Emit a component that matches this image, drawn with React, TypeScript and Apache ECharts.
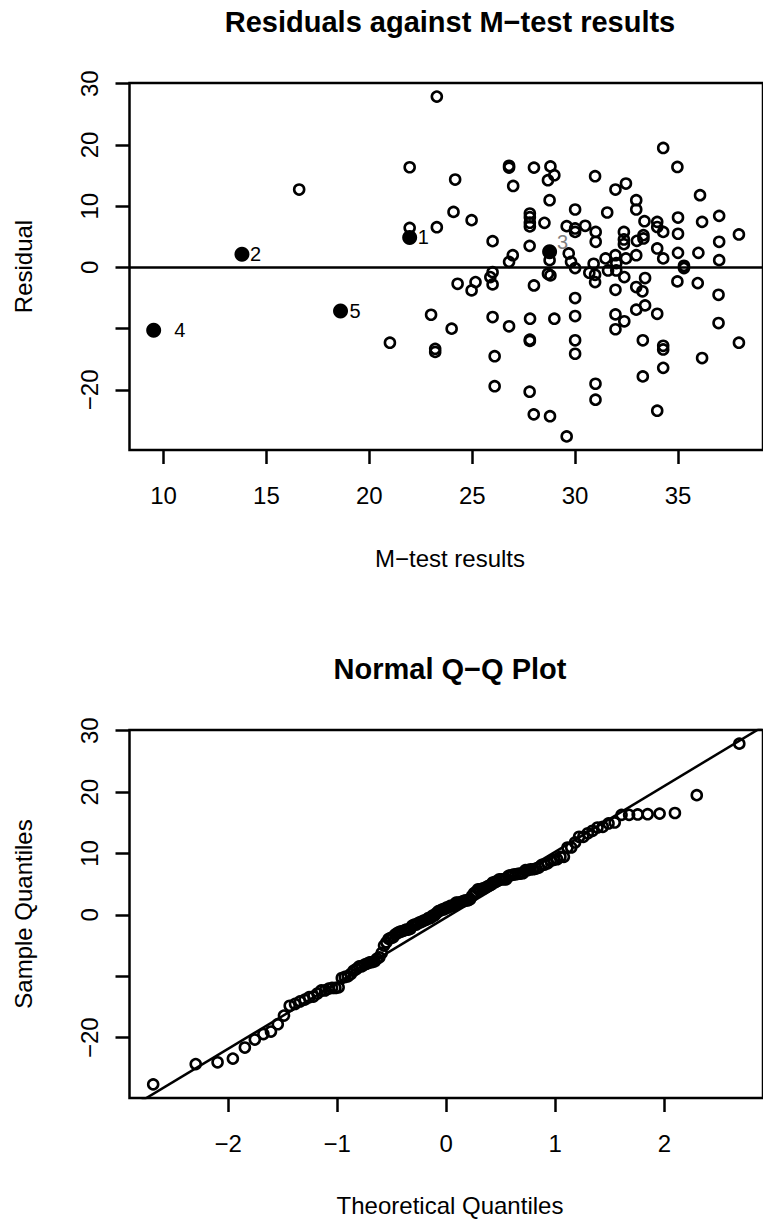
import React, { useEffect, useRef } from "react";
import * as echarts from "echarts";

// ---------- data ----------
// open circles: M-test result (x) and residual (y)
const mTest = [
  23.28, 21.96, 16.59, 21.96, 23.28,
  23.0, 21.0, 23.2, 23.2,
  34.28, 34.97, 24.17, 26.79, 26.79, 28.0, 28.8, 28.99, 28.68, 26.99,
  30.97, 32.47, 31.96, 36.07, 28.76, 32.97, 32.97, 30.0, 24.09, 24.97,
  31.56, 27.8, 27.8, 27.8, 27.8, 28.51, 29.59, 30.0, 30.0, 30.49,
  31.0, 31.0, 33.37, 33.99, 33.99, 34.28, 35.0, 35.0, 36.17, 37.0,
  37.0, 37.96, 32.37, 32.37, 32.37, 33.0, 33.32, 33.32, 25.99, 27.79,
  28.76, 29.69, 29.8, 26.97, 26.79, 31.48, 31.96, 32.47, 32.97, 33.99,
  34.28, 35.0, 35.99, 37.0, 35.29, 30.9, 32.0,
  25.99, 25.88, 25.16, 24.97, 25.99, 24.29, 28.0, 28.68, 28.8, 30.0,
  30.69, 30.97, 30.97, 31.6, 32.0, 32.39, 31.96, 32.97, 33.27, 33.4,
  35.29, 34.97, 35.96, 36.97, 30.0, 33.4, 32.97, 33.99, 36.97, 25.99,
  27.81, 28.99, 30.0, 31.96, 32.39, 31.96, 26.79, 24.0, 27.8, 27.8,
  30.0, 30.0, 33.29, 34.28, 34.28, 37.96, 26.09, 36.17, 34.28, 33.29,
  26.09, 30.99, 27.79, 30.99, 27.99, 28.78, 33.99, 29.59,
];
const residual = [
  27.9, 16.36, 12.72, 6.46, 6.57,
  -7.73, -12.3, -13.3, -13.8,
  19.51, 16.41, 14.35, 16.6, 16.3, 16.3, 16.5, 15.06, 14.24, 13.3,
  14.9, 13.7, 12.72, 11.8, 10.98, 10.98, 9.46, 9.46, 9.07, 7.72,
  8.97, 8.8, 8.2, 7.3, 6.7, 7.28, 6.74, 6.36, 5.8, 6.8,
  5.8, 4.18, 7.55, 7.44, 6.6, 5.8, 8.15, 5.5, 7.44, 8.42,
  4.18, 5.38, 5.8, 4.57, 3.8, 4.34, 5.27, 4.73, 4.29, 3.52,
  1.19, 2.28, 0.91, 2.0, 0.91, 1.47, 2.0, 1.47, 2.0, 3.1,
  1.47, 2.38, 2.38, 1.19, 0.26, 0.6, 0.7,
  -0.77, -1.58, -2.4, -3.75, -2.77, -2.67, -2.94, -1.04, -1.3, -0.11,
  -0.87, -1.2, -2.4, -0.5, -0.5, -1.58, -3.65, -3.2, -3.9, -1.74,
  -0.11, -2.28, -2.56, -4.47, -5.0, -6.2, -6.9, -7.57, -9.09, -8.1,
  -8.38, -8.38, -7.94, -7.67, -8.8, -10.1, -9.62, -10.0, -11.8, -12.0,
  -11.9, -14.1, -11.9, -12.8, -13.4, -12.3, -14.5, -14.8, -16.4, -17.8,
  -19.4, -19.0, -20.3, -21.6, -24.0, -24.3, -23.4, -27.6,
];
// highlighted (filled) observations
const flaggedMTest = [21.96, 13.81, 28.76, 9.52, 18.6];
const flaggedResidual = [4.89, 2.17, 2.55, -10.28, -7.13];
const flaggedId = ["1", "2", "3", "4", "5"];

// axes
const xTicksTop = [10, 15, 20, 25, 30, 35];
const yTicks = [-20, -10, 0, 10, 20, 30];
const yTickLabels = [-20, 0, 10, 20, 30];
const xTicksQQ = [-2, -1, 0, 1, 2];
const qqLineIntercept = -0.4;
const qqLineSlope = 10.7;

// ---------- styles ----------
const FONT = "'Liberation Sans', Arial, Helvetica, sans-serif";
const LW = 2.5;
const labelGap = [0.5, 0.5, 0, 13, 1.5];
const labelDy = [0, 0, -10, 0, 0];
const labelColor = ["#000", "#000", "#808080", "#000", "#000"];

// inverse standard normal CDF (Acklam)
function qnorm(p: number): number {
  const a = [-3.969683028665376e1, 2.209460984245205e2, -2.759285104469687e2, 1.38357751867269e2, -3.066479806614716e1, 2.506628277459239];
  const b = [-5.447609879822406e1, 1.615858368580409e2, -1.556989798598866e2, 6.680131188771972e1, -1.328068155288572e1];
  const c = [-7.784894002430293e-3, -3.223964580411365e-1, -2.400758277161838, -2.549732539343734, 4.374664141464968, 2.938163982698783];
  const d = [7.784695709041462e-3, 3.224671290700398e-1, 2.445134137142996, 3.754408661907416];
  const pl = 0.02425;
  if (p < pl) {
    const q = Math.sqrt(-2 * Math.log(p));
    return (((((c[0] * q + c[1]) * q + c[2]) * q + c[3]) * q + c[4]) * q + c[5]) / ((((d[0] * q + d[1]) * q + d[2]) * q + d[3]) * q + 1);
  }
  if (p <= 1 - pl) {
    const q = p - 0.5;
    const r = q * q;
    return ((((((a[0] * r + a[1]) * r + a[2]) * r + a[3]) * r + a[4]) * r + a[5]) * q) / (((((b[0] * r + b[1]) * r + b[2]) * r + b[3]) * r + b[4]) * r + 1);
  }
  const q = Math.sqrt(-2 * Math.log(1 - p));
  return -(((((c[0] * q + c[1]) * q + c[2]) * q + c[3]) * q + c[4]) * q + c[5]) / ((((d[0] * q + d[1]) * q + d[2]) * q + d[3]) * q + 1);
}

const fmtMinus = (v: number) => (v < 0 ? "\u2212" + Math.abs(v) : String(v));

export default function App() {
  const ref = useRef<HTMLDivElement>(null);
  useEffect(() => {
    if (!ref.current) return;
    const chart = echarts.init(ref.current, undefined, { renderer: "svg" });

    const openPts = mTest.map((x, i) => [x, residual[i]]);
    const flaggedPts = flaggedMTest.map((x, i) => ({
      value: [x, flaggedResidual[i]],
      label: {
        show: true,
        formatter: flaggedId[i],
        position: "right",
        distance: labelGap[i],
        offset: [0, labelDy[i]],
        color: labelColor[i],
        fontSize: 20,
        fontFamily: FONT,
      },
    }));

    const allRes = residual.concat(flaggedResidual).slice().sort((a, b) => a - b);
    const n = allRes.length;
    const qqPts = allRes.map((y, i) => [qnorm((i + 1 - 0.5) / n), y]);

    const yMin = -29.82;
    const yMax = 30.12;

    const tick = { show: true, inside: false, length: 14, lineStyle: { color: "#000", width: LW } };
    const lab = { color: "#000", fontSize: 24, fontFamily: FONT };
    const noLine = { show: false, onZero: false };

    const textEl = (text: string, x: number, y: number, size: number, bold = false, rot = 0) => ({
      type: "text",
      x,
      y,
      rotation: rot,
      silent: true,
      style: {
        text,
        x: 0,
        y: 0,
        fill: "#000",
        font: `${bold ? "bold " : ""}${size}px ${FONT}`,
        textAlign: "center",
        textVerticalAlign: "middle",
        align: "center",
        verticalAlign: "middle",
      },
    });

    chart.setOption({
      animation: false,
      backgroundColor: "#fff",
      grid: [
        { left: 129.5, top: 83, width: 641.5, height: 367, show: true, borderColor: "#000", borderWidth: LW, backgroundColor: "transparent" },
        { left: 129.5, top: 730, width: 641.5, height: 368, show: true, borderColor: "#000", borderWidth: LW, backgroundColor: "transparent" },
      ],
      xAxis: [
        {
          type: "value", gridIndex: 0, min: 8.345, max: 39.13, position: "bottom",
          axisLine: noLine, splitLine: { show: false },
          axisTick: { ...tick, customValues: xTicksTop },
          axisLabel: { ...lab, margin: 33, customValues: xTicksTop, formatter: fmtMinus },
        },
        {
          type: "value", gridIndex: 1, min: -2.905, max: 2.905, position: "bottom",
          axisLine: noLine, splitLine: { show: false },
          axisTick: { ...tick, customValues: xTicksQQ },
          axisLabel: { ...lab, margin: 33, customValues: xTicksQQ, formatter: fmtMinus },
        },
      ],
      yAxis: [
        {
          type: "value", gridIndex: 0, min: yMin, max: yMax, position: "left",
          axisLine: noLine, splitLine: { show: false },
          axisTick: { ...tick, customValues: yTicks },
          axisLabel: { ...lab, margin: 28, rotate: 90, customValues: yTickLabels, formatter: fmtMinus },
        },
        {
          type: "value", gridIndex: 1, min: yMin, max: yMax, position: "left",
          axisLine: noLine, splitLine: { show: false },
          axisTick: { ...tick, customValues: yTicks },
          axisLabel: { ...lab, margin: 28, rotate: 90, customValues: yTickLabels, formatter: fmtMinus },
        },
      ],
      series: [
        {
          type: "scatter", xAxisIndex: 0, yAxisIndex: 0, silent: true,
          symbol: "circle", symbolSize: 10,
          itemStyle: { color: "rgba(0,0,0,0)", borderColor: "#000", borderWidth: 2.6, opacity: 1 },
          data: openPts,
          markLine: {
            silent: true, symbol: "none", label: { show: false },
            lineStyle: { color: "#000", width: LW, type: "solid" },
            data: [{ yAxis: 0 }],
          },
        },
        {
          type: "scatter", xAxisIndex: 0, yAxisIndex: 0, silent: true,
          symbol: "circle", symbolSize: 15,
          itemStyle: { color: "#000", borderWidth: 0, opacity: 1 },
          data: flaggedPts,
        },
        {
          type: "scatter", xAxisIndex: 1, yAxisIndex: 1, silent: true,
          symbol: "circle", symbolSize: 10,
          itemStyle: { color: "rgba(0,0,0,0)", borderColor: "#000", borderWidth: 2.6, opacity: 1 },
          data: qqPts,
        },
        {
          type: "line", xAxisIndex: 1, yAxisIndex: 1, silent: true, clip: true,
          symbol: "none",
          lineStyle: { color: "#000", width: LW },
          data: [-3.2, 3.2].map((x) => [x, qqLineIntercept + qqLineSlope * x]),
        },
      ],
      graphic: [
        textEl("Residuals against M\u2212test results", 450, 22, 29, true),
        textEl("M\u2212test results", 450, 558, 24),
        textEl("Residual", 23, 266.5, 24, false, Math.PI / 2),
        textEl("Normal Q\u2212Q Plot", 450, 669, 29, true),
        textEl("Theoretical Quantiles", 450, 1205, 24),
        textEl("Sample Quantiles", 23, 914, 24, false, Math.PI / 2),
      ],
    });
    return () => chart.dispose();
  }, []);
  return <div ref={ref} style={{ position: "absolute", left: 0, top: 0, width: 763, height: 1219 }} />;
}
